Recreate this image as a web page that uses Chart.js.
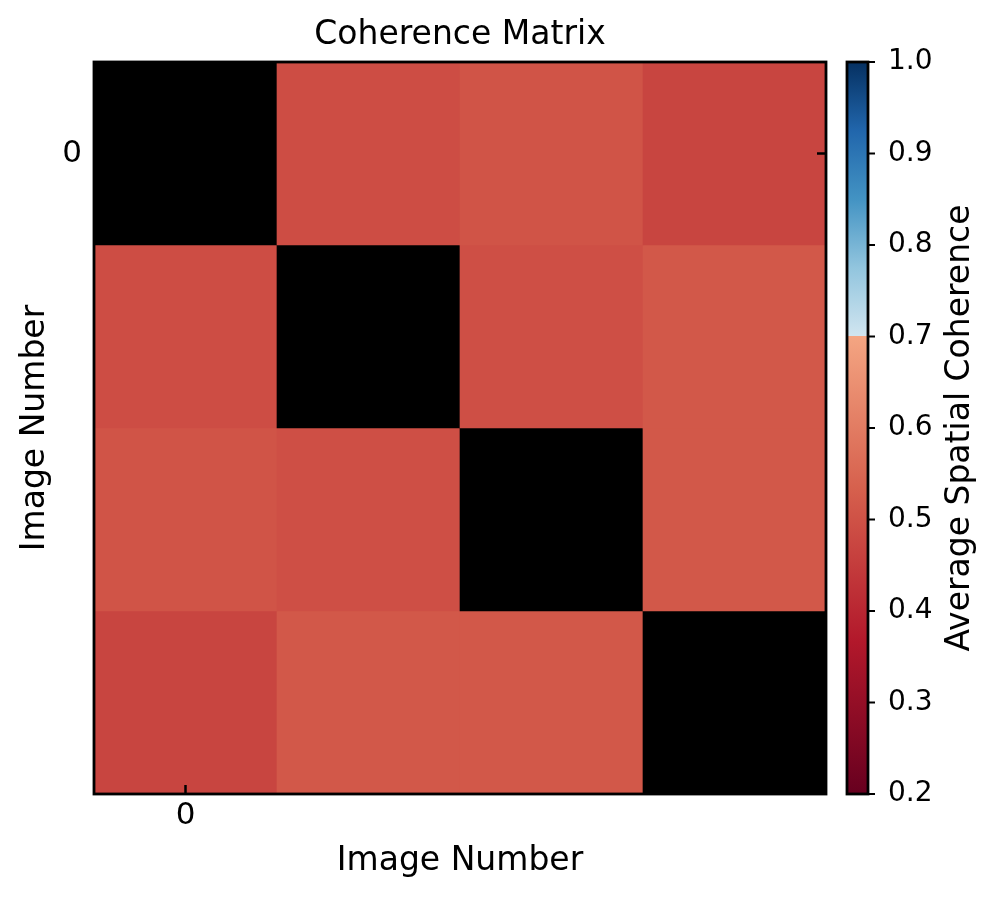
<!DOCTYPE html>
<html>
<head>
<meta charset="utf-8">
<script src="https://cdn.jsdelivr.net/npm/chart.js@4"></script>
<style>
  html, body { margin: 0; padding: 0; background: #fff; }
  #wrap { width: 997px; height: 899px; }
</style>
</head>
<body>
<div id="wrap"><canvas id="coherenceChart" width="997" height="899"></canvas></div>
<script>
// Coherence values per image pair (null = diagonal, drawn black)
const imageNumbers = ['0', '1', '2', '3'];
const row0 = [null, 0.49, 0.505, 0.47];
const row1 = [0.49, null, 0.495, 0.515];
const row2 = [0.505, 0.495, null, 0.515];
const row3 = [0.47, 0.515, 0.515, null];
const coherenceRows = [row0, row1, row2, row3];

const colorbarTicks = [0.2, 0.3, 0.4, 0.5, 0.6, 0.7, 0.8, 0.9, 1.0];
const cbMin = 0.2;
const cbMax = 1.0;

// colormap: RdBu pieces, with a jump at 0.7
const cmapStops = [
    [0.2, '#67001f'], [0.3667, '#b2182b'], [0.5333, '#d6604d'], [0.7, '#f4a582'],
    [0.7, '#d1e5f0'], [0.775, '#92c5de'], [0.85, '#4393c3'], [0.925, '#2166ac'], [1.0, '#053061']
];

function hexToRgb(h) {
    return [parseInt(h.slice(1, 3), 16), parseInt(h.slice(3, 5), 16), parseInt(h.slice(5, 7), 16)];
}

function colorFor(v) {
    if (v === null) return '#000000';
    for (let i = 0; i < cmapStops.length - 1; i++) {
        const a = cmapStops[i], b = cmapStops[i + 1];
        if (v >= a[0] && v <= b[0] && b[0] > a[0]) {
            const t = (v - a[0]) / (b[0] - a[0]);
            const ca = hexToRgb(a[1]), cb = hexToRgb(b[1]);
            const c = ca.map((x, k) => Math.round(x + (cb[k] - x) * t));
            return `rgb(${c[0]},${c[1]},${c[2]})`;
        }
    }
    return v < cbMin ? cmapStops[0][1] : cmapStops[cmapStops.length - 1][1];
}

// one stacked dataset per row; each cell is one unit tall
const datasets = coherenceRows.map((row, r) => ({
    label: 'Row ' + imageNumbers[r],
    data: row.map(() => 1),
    backgroundColor: row.map(colorFor),
    borderWidth: 0,
    categoryPercentage: 1,
    barPercentage: 1
}));

const frame = {
    id: 'frame',
    afterDraw(chart) {
        const ctx = chart.ctx;
        const ca = chart.chartArea;
        const xs = chart.scales.x, ys = chart.scales.y;
        ctx.save();
        ctx.strokeStyle = '#000';

        // inward tick marks
        ctx.lineWidth = 2.5;
        const tx = xs.getPixelForValue(0);
        ctx.beginPath();
        ctx.moveTo(tx, ca.bottom);
        ctx.lineTo(tx, ca.bottom - 9);
        const ty = ys.getPixelForValue(0.5);
        ctx.moveTo(ca.right - 9, ty);
        ctx.lineTo(ca.right, ty);
        ctx.stroke();

        // axes frame
        ctx.lineWidth = 2.8;
        ctx.strokeRect(ca.left, ca.top, ca.width, ca.height);

        // colorbar
        const barL = ca.right + 21, barW = 21;
        const grad = ctx.createLinearGradient(0, ca.bottom, 0, ca.top);
        cmapStops.forEach(s => grad.addColorStop((s[0] - cbMin) / (cbMax - cbMin), s[1]));
        ctx.fillStyle = grad;
        ctx.fillRect(barL, ca.top, barW, ca.height);
        ctx.lineWidth = 2.8;
        ctx.strokeRect(barL, ca.top, barW, ca.height);

        ctx.lineWidth = 2;
        ctx.fillStyle = '#000';
        ctx.font = '28px "DejaVu Sans"';
        ctx.textAlign = 'left';
        ctx.textBaseline = 'middle';
        colorbarTicks.forEach(v => {
            const y = ca.bottom - (v - cbMin) / (cbMax - cbMin) * ca.height;
            ctx.beginPath();
            ctx.moveTo(barL + barW, y);
            ctx.lineTo(barL + barW + 7, y);
            ctx.stroke();
            ctx.fillText(v.toFixed(1), barL + barW + 20, y);
        });

        ctx.translate(960, (ca.top + ca.bottom) / 2);
        ctx.rotate(-Math.PI / 2);
        ctx.textAlign = 'center';
        ctx.font = '33px "DejaVu Sans"';
        ctx.fillText('Average Spatial Coherence', 0, 0);
        ctx.restore();
    }
};

Chart.defaults.font.family = '"DejaVu Sans", sans-serif';
Chart.defaults.color = '#000';

const ctx = document.getElementById('coherenceChart').getContext('2d');
const coherenceChart = new Chart(ctx, {
    type: 'bar',
    data: { labels: imageNumbers, datasets: datasets },
    plugins: [frame],
    options: {
        responsive: false,
        animation: false,
        layout: { padding: { left: 0, right: 171, top: 0, bottom: 0 } },
        plugins: {
            legend: { display: false },
            tooltip: { enabled: false },
            title: {
                display: true,
                fullSize: false,
                text: 'Coherence Matrix',
                color: '#000',
                font: { size: 33, weight: 'normal' },
                padding: { top: 16, bottom: 6.4 }
            }
        },
        scales: {
            x: {
                stacked: true,
                grid: { display: false, drawTicks: false },
                border: { display: false },
                ticks: {
                    autoSkip: false,
                    maxRotation: 0,
                    padding: 3,
                    font: { size: 31 },
                    callback: (v, i) => i === 0 ? imageNumbers[0] : ''
                },
                title: {
                    display: true,
                    text: 'Image Number',
                    font: { size: 33 },
                    padding: { top: 0, bottom: 18 }
                },
                afterFit: s => { s.height = 105; }
            },
            y: {
                stacked: true,
                reverse: true,
                min: 0,
                max: coherenceRows.length,
                grid: { display: false, drawTicks: false },
                border: { display: false },
                afterBuildTicks: s => { s.ticks = [{ value: 0.5 }]; },
                ticks: {
                    padding: 12,
                    font: { size: 31 },
                    callback: () => imageNumbers[0]
                },
                title: {
                    display: true,
                    text: 'Image Number',
                    font: { size: 33 },
                    padding: { top: 16, bottom: 0 }
                },
                afterFit: s => { s.width = 94; }
            }
        }
    }
});
</script>
</body>
</html>
